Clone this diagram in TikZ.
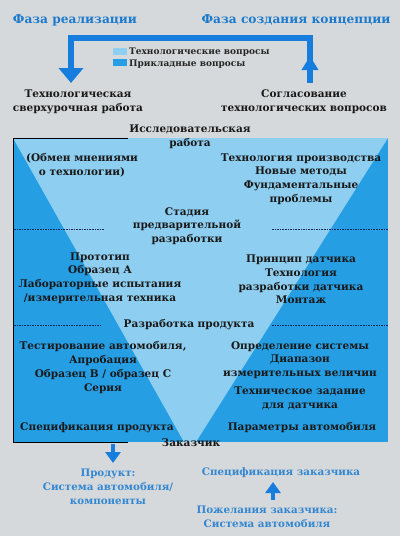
\documentclass[tikz,border=0pt]{standalone}
\usepackage{fontspec}
\setmainfont{DejaVu Serif}
\usetikzlibrary{arrows.meta}
\definecolor{bg}{RGB}{214,217,219}
\definecolor{lightb}{RGB}{142,206,240}
\definecolor{darkb}{RGB}{38,158,228}
\definecolor{titleb}{RGB}{28,122,204}
\definecolor{arrowb}{RGB}{22,124,222}
\definecolor{dashc}{RGB}{20,40,90}
\begin{document}
\begin{tikzpicture}[x=1pt,y=-1pt,
  body/.style={font=\fontsize{10.5}{13.8}\selectfont\bfseries, align=center, inner sep=0pt, text=black!90},
  bluetxt/.style={font=\fontsize{10.3}{13.8}\selectfont\bfseries, align=center, inner sep=0pt, text=titleb!90!white},
  title/.style={font=\fontsize{12.2}{15}\selectfont\bfseries, inner sep=0pt, text=titleb},
  legend/.style={font=\fontsize{9}{10}\selectfont\bfseries, inner sep=0pt, anchor=west, text=black!85},
  sep/.style={dashc, line width=0.8pt, dash pattern=on 1.6pt off 1pt},
  bigarrow/.style={arrowb, line width=6pt},
  smallarrow/.style={arrowb, line width=4.5pt, -{Triangle[width=15pt,length=11pt]}}]
% page and background
\fill[bg] (0,0) rectangle (400,536);
\useasboundingbox (0,0) rectangle (400,536);

% main box
\fill[darkb] (13,138) rectangle (388,442);
\begin{scope}
  \clip (13,138) rectangle (388,442);
  \fill[lightb] (13,138) -- (388,138) -- (196,442) -- (184,442) -- cycle;
\end{scope}
\draw[black, line width=0.9pt] (128,138) -- (13,138) -- (13,442) -- (128,442);

% separators
\draw[sep] (14,229) -- (105,229);
\draw[sep] (272,229) -- (388,229);
\draw[sep] (14,325) -- (100,325);
\draw[sep] (272,325) -- (388,325);

% titles
\node[title] (t1) at (75,20) {Фаза реализации};
\node[title] (t2) at (296,20) {Фаза создания концепции};

% top bracket arrows
\coordinate (bl) at (71,38);
\coordinate (br) at (310,38);
\coordinate (bltip) at (71,83);
\coordinate (brbot) at (310,83);
\coordinate (brtip) at (310,56);
\draw[bigarrow, -{Triangle[width=24pt,length=15pt]}] (bl) -- (bltip);
\draw[bigarrow] (bl) -- (br) -- (brbot);
\draw[bigarrow, {Triangle[width=16pt,length=14pt]}-] (brtip) -- (brbot);
\fill[arrowb] (68,35) rectangle (74,41);
\fill[arrowb] (307,35) rectangle (313,41);

% legend
\fill[lightb] (113,48) rectangle (127,55);
\fill[darkb] (113,59) rectangle (127,66);
\node[legend] (l1) at (129,52) {Технологические вопросы};
\node[legend] (l2) at (129,64) {Прикладные вопросы};

% top labels
\node[body] (a1) at (78,102) {Технологическая\\сверхурочная работа};
\node[body] (a2) at (304,102) {Согласование\\технологических вопросов};

% box contents
\node[body] (b1) at (190,136.5) {Исследовательская\\работа};
\node[body] (b2) at (82,165) {(Обмен мнениями\\о технологии)};
\node[body] (b3) at (301,179) {Технология производства\\Новые методы\\Фундаментальные\\проблемы};
\node[body] (b4) at (187,226) {Стадия\\предварительной\\разработки};
\node[body] (b5) at (100,278) {Прототип\\Образец А\\Лабораторные испытания\\/измерительная техника};
\node[body] (b6) at (301,279.5) {Принцип датчика\\Технология\\разработки датчика\\Монтаж};
\node[body] (b7) at (189,325) {Разработка продукта};
\node[body] (b8) at (103,367.5) {Тестирование автомобиля,\\Апробация\\Образец B / образец C\\Серия};
\node[body] (b9) at (300,360) {Определение системы\\Диапазон\\измерительных величин};
\node[body] (b10) at (300,398.5) {Техническое задание\\для датчика};
\node[body] (b11) at (97,428) {Спецификация продукта};
\node[body] (b12) at (302,428) {Параметры автомобиля};
\node[body] (b13) at (191,443) {Заказчик};

% bottom
\node[bluetxt] (c1) at (108,487) {Продукт:\\Система автомобиля/\\компоненты};
\node[bluetxt] (c2) at (281,473) {Спецификация заказчика};
\node[bluetxt] (c3) at (267,516.5) {Пожелания заказчика:\\Система автомобиля};
\coordinate (d1) at (113,444);
\coordinate (d2) at (113,463);
\draw[smallarrow] (d1) -- (d2);
\coordinate (u1) at (273,500);
\coordinate (u2) at (273,482);
\draw[smallarrow] (u1) -- (u2);
\end{tikzpicture}
\end{document}
